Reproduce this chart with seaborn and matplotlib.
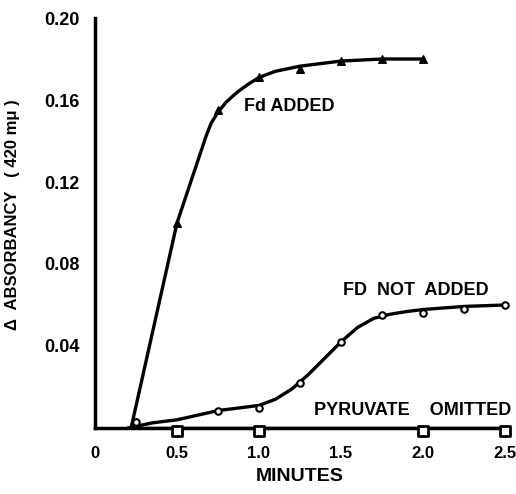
import matplotlib
matplotlib.use("Agg")
import matplotlib.pyplot as plt
import seaborn as sns
import pandas as pd

# measured points
fd_x = [0.25, 0.5, 0.75, 1.0, 1.25, 1.5, 1.75, 2.0]
fd_y = [0.003, 0.100, 0.155, 0.171, 0.175, 0.179, 0.180, 0.180]
nofd_x = [0.25, 0.75, 1.0, 1.25, 1.5, 1.75, 2.0, 2.25, 2.5]
nofd_y = [0.003, 0.0085, 0.010, 0.022, 0.042, 0.055, 0.056, 0.058, 0.060]
pyr_x = [0.5, 1.0, 2.0, 2.5]
pyr_y = [-0.0015, -0.0015, -0.0015, -0.0015]

# hand-drawn curves
fd_curve_x = [0.22, 0.5, 0.68, 0.71, 0.75, 0.80, 0.87, 0.94, 1.0, 1.1, 1.25, 1.5, 1.75, 2.0]
fd_curve_y = [0.0, 0.100, 0.143, 0.149, 0.154, 0.159, 0.164, 0.168, 0.171, 0.174, 0.1765, 0.179, 0.180, 0.180]
nofd_curve_x = [0.20, 0.35, 0.5, 0.75, 1.0, 1.1, 1.2, 1.3, 1.4, 1.5, 1.6, 1.7, 1.8, 1.9, 2.0, 2.25, 2.5]
nofd_curve_y = [0.0, 0.0025, 0.004, 0.0085, 0.011, 0.014, 0.019, 0.026, 0.034, 0.042, 0.049, 0.0535, 0.0555, 0.0568, 0.0578, 0.0593, 0.060]
pyr_curve_x = [0.2, 2.5]
pyr_curve_y = [0.0, 0.0]

labels = ["Fd ADDED", "FD  NOT  ADDED", "PYRUVATE    OMITTED"]
label_x = [0.91, 1.51, 1.335]
label_y = [0.157, 0.067, 0.0083]

x_ticks = [0, 0.5, 1.0, 1.5, 2.0, 2.5]
x_ticklabels = ["0", "0.5", "1.0", "1.5", "2.0", "2.5"]
y_ticks = [0.04, 0.08, 0.12, 0.16, 0.20]
y_ticklabels = ["0.04", "0.08", "0.12", "0.16", "0.20"]

sns.set_style("white")
plt.rcParams['font.family'] = ['Liberation Sans', 'DejaVu Sans']
plt.rcParams['font.weight'] = 'bold'
plt.rcParams['text.color'] = 'black'
plt.rcParams['axes.labelcolor'] = 'black'

fig = plt.figure(figsize=(5.16, 4.94), dpi=100)
ax = fig.add_axes([95/516, 1 - 428/494, 410/516, 410/494])

lw = 2.4
sns.lineplot(x=fd_curve_x, y=fd_curve_y, ax=ax, color="black", linewidth=lw, sort=False, estimator=None)
sns.lineplot(x=nofd_curve_x, y=nofd_curve_y, ax=ax, color="black", linewidth=lw, sort=False, estimator=None)
sns.lineplot(x=pyr_curve_x, y=pyr_curve_y, ax=ax, color="black", linewidth=lw, sort=False, estimator=None)

sns.scatterplot(x=fd_x, y=fd_y, ax=ax, marker="^", s=30, color="black", edgecolor="black", linewidth=1, zorder=5, clip_on=False)
sns.scatterplot(x=nofd_x, y=nofd_y, ax=ax, marker="o", s=22, facecolor="white", edgecolor="black", linewidth=1.5, zorder=5, clip_on=False)
sns.scatterplot(x=pyr_x, y=pyr_y, ax=ax, marker="s", s=45, facecolor="white", edgecolor="black", linewidth=2, zorder=5, clip_on=False)

for t, xx, yy in zip(labels, label_x, label_y):
    ax.text(xx, yy, t, fontsize=13, fontweight="bold", ha="left", va="center", color="black")

ax.set_xlim(0, 2.5)
ax.set_ylim(0, 0.20)
ax.set_xticks(x_ticks)
ax.set_xticklabels(x_ticklabels)
ax.set_yticks(y_ticks)
ax.set_yticklabels(y_ticklabels)
ax.tick_params(axis="both", direction="in", length=5, width=2, colors="black")
ax.tick_params(axis="x", pad=13, labelsize=12)
ax.tick_params(axis="y", pad=11, labelsize=13)
for lab in ax.get_xticklabels() + ax.get_yticklabels():
    lab.set_fontweight("bold")

for s in ["top", "right"]:
    ax.spines[s].set_visible(False)
for s in ["left", "bottom"]:
    ax.spines[s].set_linewidth(2.5)
    ax.spines[s].set_color("black")

ax.set_xlabel("MINUTES", fontsize=14, fontweight="bold", labelpad=5)
ax.set_ylabel("Δ  ABSORBANCY   ( 420 mμ )", fontsize=12, fontweight="bold")
ax.yaxis.set_label_coords(-(95 - 20) / 410, 0.52)

fig.savefig("out.png", dpi=100)
